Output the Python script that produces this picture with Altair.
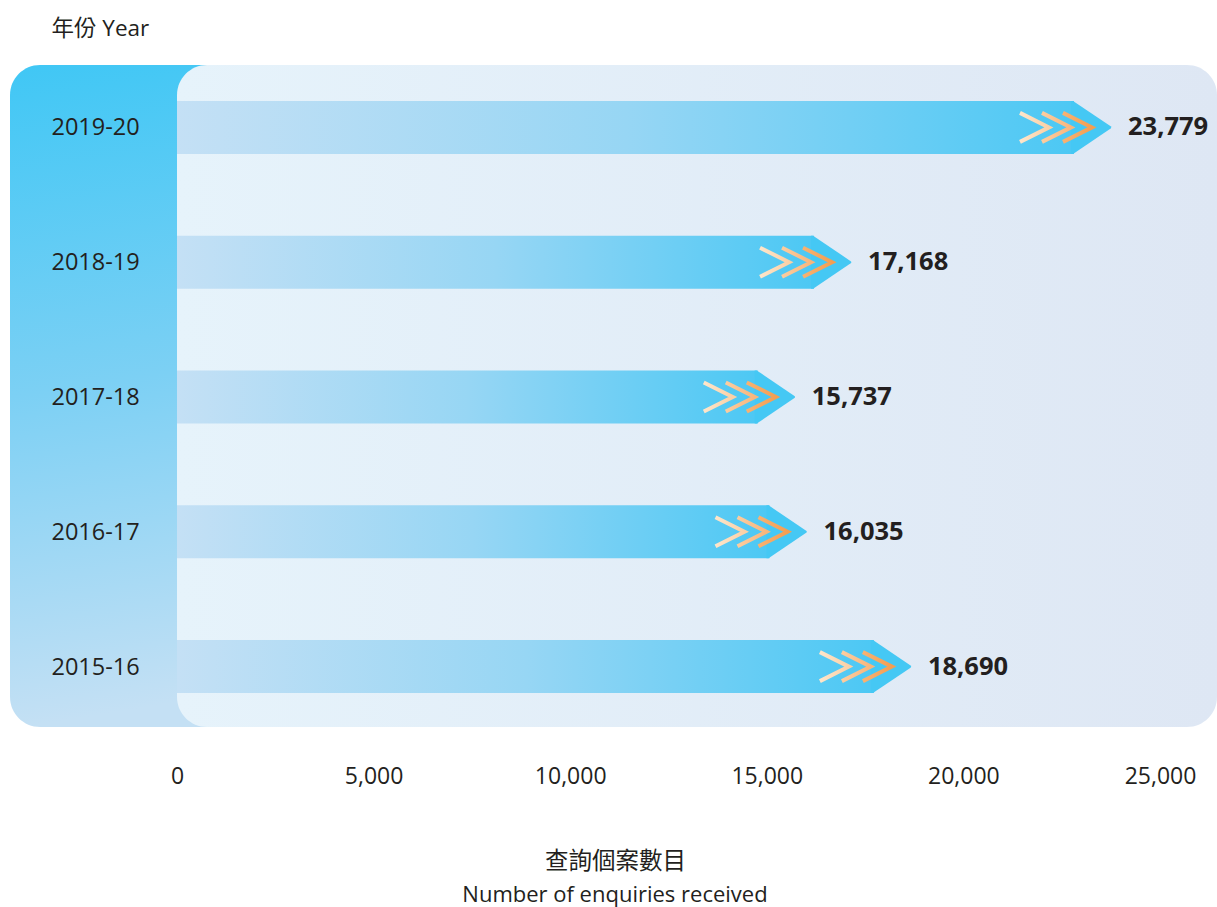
import altair as alt
import pandas as pd

# ---- data ----
years = ["2019-20", "2018-19", "2017-18", "2016-17", "2015-16"]
enquiries = [23779, 17168, 15737, 16035, 18690]
x_ticks = [0, 5000, 10000, 15000, 20000, 25000]
x_title_zh = "查詢個案數目"
x_title_en = "Number of enquiries received"

df = pd.DataFrame({"year": years, "n": enquiries})
one = pd.DataFrame({"k": [0]})

FONT = "Open Sans, Noto Sans CJK TC"
TXT = "#231F20"

x_scale = alt.Scale(domain=[0, 25000], nice=False, zero=True)
y_scale = alt.Scale(domain=years, paddingInner=0, paddingOuter=0)

x_axis = alt.Axis(
    values=x_ticks, format=",.0f", grid=False, domain=False, ticks=False, tickSize=0,
    labelFont=FONT, labelFontSize=23, labelColor=TXT, labelPadding=31,
    labelFlush=False,
    title=x_title_zh,
    titleFont=FONT, titleFontSize=23.5, titleFontWeight="normal", titleColor=TXT,
    titleX=438, titleY=127, titleAlign="center",
    titleBaseline="middle", titleAnchor="start", zindex=2,
)
y_axis = alt.Axis(
    grid=False, domain=False, ticks=False, tickSize=0,
    labelFont=FONT, labelFontSize=23.5, labelColor=TXT, labelPadding=126,
    labelAlign="left", labelBaseline="middle", zindex=2, labelOffset=1,
    title="年份 Year", titleFont=FONT, titleFontSize=22.5, titleFontWeight="normal",
    titleColor=TXT, titleAngle=0, titleX=-126, titleY=-32, titleAlign="left",
    titleBaseline="middle",
)

Y = alt.Y("year:N", sort=years, scale=y_scale, axis=y_axis)

# ---- background panels ----
outer_grad = {
    "gradient": "linear", "x1": 0, "y1": 0, "x2": 0.06, "y2": 1,
    "stops": [
        {"offset": 0, "color": "#40C7F5"},
        {"offset": 0.5, "color": "#7CD0F4"},
        {"offset": 1, "color": "#C4E0F4"},
    ],
}
inner_grad = {
    "gradient": "linear", "x1": 0, "y1": 0, "x2": 1, "y2": 0,
    "stops": [
        {"offset": 0, "color": "#E6F3FB"},
        {"offset": 1, "color": "#DEE7F4"},
    ],
}
outer = alt.Chart(one).mark_rect(cornerRadius=30, fill=outer_grad).encode(
    x=alt.value(-167), x2=alt.value(80), y=alt.value(5), y2=alt.value(667)
)
inner = alt.Chart(one).mark_rect(cornerRadius=30, fill=inner_grad).encode(
    x=alt.value(0), x2=alt.value(1040), y=alt.value(5), y2=alt.value(667)
)

# ---- bars ----
bar_grad = {
    "gradient": "linear", "x1": 0, "y1": 0, "x2": 1, "y2": 0,
    "stops": [
        {"offset": 0, "color": "#C4E0F5"},
        {"offset": 0.5, "color": "#97D6F4"},
        {"offset": 1, "color": "#4CC8F4"},
    ],
}
base = alt.Chart(df)

body = base.transform_calculate(start="0").mark_bar(
    size=53, x2Offset=-38, fill=bar_grad, cornerRadius=0
).encode(
    x=alt.X("start:Q", scale=x_scale, axis=x_axis),
    x2=alt.X2("n:Q"),
    y=Y,
)

tip_path = "M-1.55,-1 L-1.47,-1 L-0.05,-0.04 Q0,0 -0.05,0.04 L-1.47,1 L-1.55,1 Z"
tip = base.mark_point(
    shape=tip_path, size=2809, filled=True, fill="#45C8F4", strokeWidth=0, opacity=1
).encode(
    x=alt.X("n:Q", scale=x_scale, axis=x_axis),
    y=Y,
)

chev_path = "M-2,-1 L0,0 L-2,1"
chev_cols = [("#FEE6CB", "#FBD0A6"), ("#FCCDA0", "#F8B57C"), ("#F8B272", "#F39E52")]
chev_off = [-63, -41, -20]
chevs = []
for (c0, c1), off in zip(chev_cols, chev_off):
    g = {
        "gradient": "linear", "x1": 0, "y1": 0, "x2": 1, "y2": 0,
        "stops": [{"offset": 0, "color": c0}, {"offset": 1, "color": c1}],
    }
    chevs.append(
        base.mark_point(
            shape=chev_path, size=841, filled=False, stroke=g, strokeWidth=4,
            opacity=1, xOffset=off, strokeJoin="miter", strokeCap="butt",
        ).encode(x=alt.X("n:Q", scale=x_scale, axis=x_axis), y=Y)
    )

labels = base.mark_text(
    align="left", baseline="middle", dx=16, font=FONT, fontSize=25.5,
    fontWeight="bold", color=TXT,
).encode(
    x=alt.X("n:Q", scale=x_scale, axis=x_axis),
    y=Y,
    text=alt.Text("n:Q", format=","),
)

en_title = alt.Chart(pd.DataFrame({"t": [x_title_en]})).mark_text(
    align="center", baseline="middle", font=FONT, fontSize=22, color=TXT
).encode(x=alt.value(438), y=alt.value(835), text="t:N")

chart = alt.layer(outer, inner, body, tip, *chevs, labels, en_title).properties(
    width=983, height=674,
    padding={"left": 177, "top": 60, "right": 57, "bottom": 173},
    autosize="none",
    background="white",
).configure_view(stroke=None)

chart.save("out.html", embed_options={"renderer": "svg", "actions": False})
